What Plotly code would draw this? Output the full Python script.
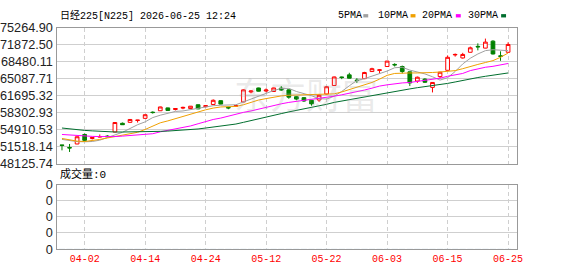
import plotly.graph_objects as go

# ---------------- data ----------------
dates = ["03-30", "03-31", "04-01", "04-02", "04-03", "04-06", "04-07", "04-08", "04-09", "04-10",
         "04-13", "04-14", "04-15", "04-16", "04-17", "04-20", "04-21", "04-22", "04-23", "04-24",
         "04-27", "04-28", "04-30", "05-01", "05-07", "05-08", "05-11", "05-12", "05-13", "05-14",
         "05-15", "05-18", "05-19", "05-20", "05-21", "05-22", "05-25", "05-26", "05-27", "05-28",
         "05-29", "06-01", "06-02", "06-03", "06-04", "06-05", "06-08", "06-09", "06-10", "06-11",
         "06-12", "06-15", "06-16", "06-17", "06-18", "06-19", "06-22", "06-23", "06-24", "06-25"]

opens = [51865, 51353, 52055, 53953, 53156, 53440, 53630, 54446, 56192, 56382,
         56762, 57179, 58413, 58698, 59267, 58945, 59229, 59134, 59894, 59514,
         59951, 60710, 59381, 59609, 60463, 62456, 63253, 62646, 62551, 63215,
         62874, 61507, 61317, 60786, 60843, 62038, 63747, 65455, 65872, 64828,
         65113, 66537, 66764, 67543, 67960, 67543, 66480, 64639, 65018, 63367,
         65531, 66783, 69858, 69251, 70389, 71566, 71225, 72610, 69668, 70389]
highs = [51865, 52055, 53535, 54143, 53440, 53953, 53820, 56382, 56344, 56990,
         56857, 57939, 58565, 59514, 59324, 59191, 59514, 59647, 59951, 59837,
         60976, 60786, 59514, 59837, 62987, 62741, 63310, 63177, 63310, 63633,
         62987, 61602, 61412, 60786, 62038, 63633, 65531, 65531, 66290, 65208,
         66480, 67296, 67011, 68681, 68188, 67732, 66480, 65531, 65208, 64392,
         66480, 69763, 70143, 70276, 71528, 72174, 73123, 72800, 70579, 72363]
lows = [50783, 50460, 52017, 52738, 52966, 53383, 53307, 54408, 55851, 56344,
        56344, 57141, 58128, 58660, 58698, 58755, 59002, 59077, 59002, 59381,
        59837, 59951, 59002, 59514, 60406, 62171, 62551, 62361, 62513, 62684,
        61089, 60786, 60463, 59704, 60463, 62000, 63709, 65018, 65170, 64259,
        65018, 66480, 66157, 67505, 67543, 66157, 63633, 64259, 64259, 62361,
        65208, 66745, 69516, 69137, 70352, 70769, 71187, 69953, 68681, 70333]
closes = [51770, 51258, 53497, 52776, 53345, 53535, 53535, 56344, 55908, 56952,
          56819, 57901, 58337, 59457, 58755, 59134, 59362, 59609, 59077, 59704,
          60786, 60027, 59267, 59704, 62874, 62646, 62608, 62836, 63253, 62836,
          61412, 61032, 60653, 60083, 61792, 63500, 65455, 65341, 65208, 64734,
          66347, 67106, 66878, 68624, 67865, 66537, 64259, 65398, 64392, 64354,
          66404, 69384, 69953, 69953, 71282, 71471, 72420, 70048, 69573, 71946]

ma5 = [52966, 52719, 52529, 52491, 52548, 52814, 53288, 53915, 54389, 55149,
       55908, 56477, 57331, 57806, 58185, 58565, 58660, 58945, 59134, 59419,
       59704, 59799, 59837, 59894, 60463, 61032, 61697, 62266, 62741, 63158,
       63177, 62551, 62171, 61697, 61127, 61032, 61602, 62551, 63690, 64734,
       65113, 65588, 66062, 66631, 67296, 67391, 66821, 66442, 66062, 65493,
       64828, 65303, 66537, 68055, 69194, 70048, 70712, 70902, 70807, 70712]
ma10 = [53156, 52833, 52624, 52548, 52681, 52966, 53251, 53535, 53820, 54048,
        54389, 54959, 55623, 56287, 56667, 57141, 57616, 58052, 58470, 58888,
        59229, 59457, 59514, 59552, 59894, 60368, 60843, 61127, 61412, 61659,
        61792, 61848, 61886, 61886, 61886, 61981, 62076, 62456, 62930, 63405,
        63785, 64354, 65018, 65777, 66157, 66252, 66252, 66252, 66252, 66347,
        66442, 66537, 66726, 67106, 67581, 67960, 68340, 68719, 69384, 70238]
ma20 = [53953, 53820, 53725, 53630, 53573, 53535, 53497, 53535, 53630, 53725,
        53820, 53953, 54105, 54484, 54769, 55054, 55338, 55661, 56098, 56572,
        56952, 57236, 57616, 58090, 58375, 58660, 59040, 59419, 59799, 60083,
        60368, 60558, 60748, 60938, 61089, 61317, 61602, 61886, 62171, 62456,
        62836, 63215, 63633, 63879, 64126, 64259, 64354, 64544, 64771, 64961,
        65208, 65588, 65872, 66157, 66726, 67106, 67391, 67581, 67865, 68150]
ma30 = [55244, 55054, 54902, 54769, 54674, 54579, 54484, 54446, 54446, 54446,
        54446, 54446, 54484, 54579, 54636, 54712, 54769, 54864, 55054, 55244,
        55433, 55623, 55813, 56041, 56382, 56762, 57141, 57483, 57806, 58128,
        58470, 58755, 59040, 59324, 59609, 59989, 60368, 60653, 60938, 61222,
        61507, 61792, 62076, 62361, 62551, 62836, 63063, 63310, 63500, 63690,
        63879, 64164, 64449, 64771, 65113, 65341, 65588, 65777, 66062, 66252]

volume = [0, 0, 0, 0, 0, 0, 0, 0, 0, 0, 0, 0, 0, 0, 0, 0, 0, 0, 0, 0,
          0, 0, 0, 0, 0, 0, 0, 0, 0, 0, 0, 0, 0, 0, 0, 0, 0, 0, 0, 0,
          0, 0, 0, 0, 0, 0, 0, 0, 0, 0, 0, 0, 0, 0, 0, 0, 0, 0, 0, 0]

price_ticks = [48125.74, 51518.14, 54910.53, 58302.93, 61695.32,
               65087.71, 68480.11, 71872.50, 75264.90]
vol_ticks = [0, 1, 2, 3, 4]
vol_tick_labels = ["0", "0", "0", "0", "0"]
x_ticks = ["04-02", "04-14", "04-24", "05-12", "05-22", "06-03", "06-15", "06-25"]

title_text = "日经225[N225] 2026-06-25 12:24"
volume_label = "成交量:0"
ma_names = ["5PMA", "10PMA", "20PMA", "30PMA"]
ma_colors = ["#a0a0a0", "#f0a000", "#ff00ff", "#006e2e"]

# ---------------- figure ----------------
W, H = 578, 276
def px_x(p):
    return p / W
def px_y(p):
    return (H - p) / H

fig = go.Figure()

fig.add_trace(go.Candlestick(
    x=dates, open=opens, high=highs, low=lows, close=closes,
    increasing=dict(line=dict(color="#ff0000", width=1), fillcolor="#ffffff"),
    decreasing=dict(line=dict(color="#008000", width=1), fillcolor="#008000"),
    xaxis="x", yaxis="y", hoverinfo="skip", showlegend=False))

for vals, name, col in zip([ma5, ma10, ma20, ma30], ma_names, ma_colors):
    fig.add_trace(go.Scatter(x=dates, y=vals, mode="lines", name=name,
                             line=dict(color=col, width=1), hoverinfo="skip",
                             showlegend=False, xaxis="x", yaxis="y"))

fig.add_trace(go.Bar(x=dates, y=volume, marker_color="#ff0000", xaxis="x2", yaxis="y2",
                     showlegend=False, hoverinfo="skip"))

xdom = [px_x(55.3), px_x(522.3)]
grid_c = "#cfcfcf"
border_c = "#999999"

fig.update_layout(
    width=W, height=H, margin=dict(l=0, r=0, t=0, b=0),
    paper_bgcolor="#ffffff", plot_bgcolor="#ffffff",
    boxgap=0.3,
    xaxis=dict(domain=xdom, type="category", range=[-0.6, 60.2], anchor="y",
               tickvals=x_ticks, showticklabels=False, ticks="",
               showgrid=True, gridcolor=grid_c, griddash="4px,3px", gridwidth=1,
               showline=True, linecolor=border_c, linewidth=1, mirror=True,
               zeroline=False, rangeslider=dict(visible=False), fixedrange=True),
    yaxis=dict(domain=[px_y(165), px_y(22)], range=[price_ticks[0], price_ticks[-1]],
               tickvals=price_ticks, ticktext=["%.2f" % v for v in price_ticks],
               tickfont=dict(family="Liberation Sans, Arial", size=12.7, color="#222222"),
               ticks="", ticklabelstandoff=1,
               showgrid=True, gridcolor=grid_c, gridwidth=1,
               showline=True, linecolor=border_c, linewidth=1, mirror=True,
               zeroline=False, anchor="x"),
    xaxis2=dict(domain=xdom, type="category", range=[-0.6, 60.2], anchor="y2",
                tickvals=x_ticks, ticktext=x_ticks, ticks="",
                tickfont=dict(family="Liberation Mono, monospace", size=10, color="#ff0000"),
                showgrid=True, gridcolor=grid_c, griddash="4px,3px", gridwidth=1,
                showline=True, linecolor=border_c, linewidth=1, mirror=True,
                zeroline=False),
    yaxis2=dict(domain=[px_y(255), px_y(187)], range=[0, 4], anchor="x2",
                tickvals=vol_ticks, ticktext=vol_tick_labels, ticks="", ticklabelstandoff=1,
                tickfont=dict(family="Liberation Sans, Arial", size=12.7, color="#222222"),
                showgrid=True, gridcolor=grid_c, gridwidth=1,
                showline=True, linecolor=border_c, linewidth=1, mirror=True,
                zeroline=False),
)

ann = []
# watermark
ann.append(dict(text="东方财富", x=px_x(308), y=px_y(91), xref="paper", yref="paper",
                xanchor="center", yanchor="middle", showarrow=False,
                font=dict(family="Noto Sans CJK SC", size=36, color="rgba(160,160,160,0.22)")))
ann.append(dict(text=title_text, x=px_x(56), y=px_y(9), xref="paper", yref="paper",
                xanchor="left", yanchor="middle", showarrow=False,
                font=dict(family="Liberation Mono, Noto Sans CJK SC", size=10, color="#000000")))
ann.append(dict(text=volume_label, x=px_x(56), y=px_y(176), xref="paper", yref="paper",
                xanchor="left", yanchor="middle", showarrow=False,
                font=dict(family="Liberation Mono, Noto Sans CJK SC", size=11, color="#000000")))
leg_text_x = [338, 379, 424, 470]
leg_sq_x = [366, 414, 460, 506]
shapes = []
for name, col, tx, sx in zip(ma_names, ma_colors, leg_text_x, leg_sq_x):
    ann.append(dict(text=name, x=px_x(tx), y=px_y(9), xref="paper", yref="paper",
                    xanchor="left", yanchor="middle", showarrow=False,
                    font=dict(family="Liberation Mono, monospace", size=10, color="#000000")))
    shapes.append(dict(type="rect", xref="paper", yref="paper",
                       x0=px_x(sx), x1=px_x(sx + 5), y0=px_y(11), y1=px_y(7.5),
                       fillcolor=col, line=dict(width=0)))
fig.update_layout(annotations=ann, shapes=shapes)

fig.write_html("out.html")
